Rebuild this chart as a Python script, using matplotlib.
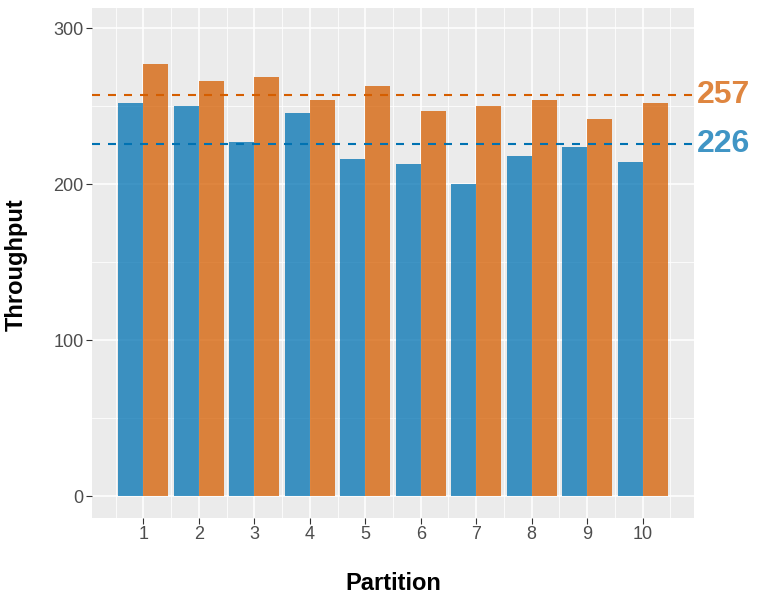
import matplotlib
matplotlib.use("Agg")
import matplotlib.pyplot as plt
import numpy as np
from matplotlib.ticker import FixedLocator

plt.rcParams['font.family'] = ['Liberation Sans', 'DejaVu Sans']

partitions = [1, 2, 3, 4, 5, 6, 7, 8, 9, 10]
series_a = [252, 250, 227, 245.5, 216, 213, 200, 218, 224, 214]
series_b = [277, 266, 269, 254, 263, 247, 250, 254, 242, 252]
mean_a = 226
mean_b = 257
yticks = [0, 100, 200, 300]

blue = '#0072B2'
orange = '#D55E00'

fig = plt.figure(figsize=(7.58, 6.0), dpi=100)
ax = fig.add_axes([92/758, 1-518/600, (694-92)/758, (518-8)/600])
ax.set_facecolor('#EBEBEB')

x = np.array(partitions, dtype=float)
w = 0.45
ax.bar(x - w/2, series_a, width=w, color=blue, alpha=0.75, zorder=3, linewidth=0)
ax.bar(x + w/2, series_b, width=w, color=orange, alpha=0.75, zorder=3, linewidth=0)

ax.axhline(mean_b, color=orange, lw=1.5, dashes=(3.84, 3.84), zorder=4)
ax.axhline(mean_a, color=blue, lw=1.5, dashes=(3.84, 3.84), zorder=4)

ax.set_xlim(0.075, 10.925)
ax.set_ylim(-14, 313)

ax.set_xticks(partitions)
ax.set_xticklabels([str(p) for p in partitions])
ax.xaxis.set_minor_locator(FixedLocator(np.arange(0.5, 11, 1.0)))
ax.set_yticks(yticks)
ax.set_yticklabels([str(t) for t in yticks])
ax.yaxis.set_minor_locator(FixedLocator([50, 150, 250]))

ax.grid(which='major', color='white', lw=1.1, zorder=1)
ax.grid(which='minor', color='white', lw=0.55, zorder=1)
ax.set_axisbelow(True)

for s in ax.spines.values():
    s.set_visible(False)

ax.tick_params(axis='both', which='major', length=4, width=0.8, color='#333333',
               labelcolor='#4D4D4D', labelsize=13, pad=2)
ax.tick_params(axis='both', which='minor', length=0)

fig.text(0.5*(92+694)/758, 1-583/600, 'Partition', fontsize=17, fontweight='bold',
         ha='center', va='center')
fig.text(16/758, 1-264.5/600, 'Throughput', rotation=90, fontsize=17, fontweight='bold',
         ha='center', va='center')

ax.text(1.005, mean_b, str(mean_b), transform=ax.get_yaxis_transform(), color=orange, alpha=0.75,
        fontsize=23, fontweight='bold', ha='left', va='center', clip_on=False)
ax.text(1.005, mean_a, str(mean_a), transform=ax.get_yaxis_transform(), color=blue, alpha=0.75,
        fontsize=23, fontweight='bold', ha='left', va='center', clip_on=False)

fig.savefig('out.png', dpi=100)
